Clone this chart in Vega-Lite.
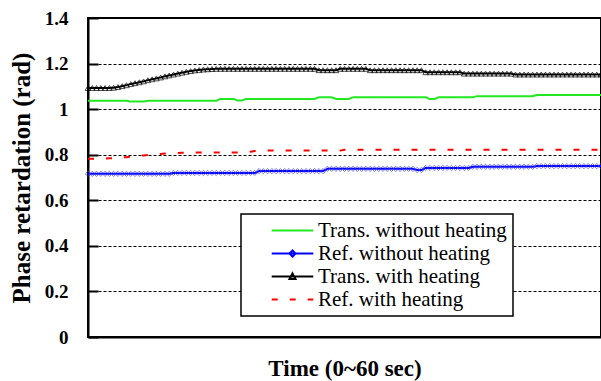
{
  "$schema": "https://vega.github.io/schema/vega-lite/v6.json",
  "width": 513,
  "height": 319,
  "autosize": "none",
  "padding": {"left": 88, "top": 18, "right": 0, "bottom": 44},
  "background": "white",
  "config": {
    "view": {"stroke": "black", "strokeWidth": 2},
    "font": "Liberation Serif, Times New Roman, serif"
  },
  "data": {"values": [
    {"t":0,"g":1.037,"b":0.716,"k":1.093,"r":0.782},
    {"t":0.5,"g":1.037,"b":0.716,"k":1.093,"r":0.782},
    {"t":1,"g":1.037,"b":0.716,"k":1.093,"r":0.782},
    {"t":1.5,"g":1.037,"b":0.716,"k":1.093,"r":0.782},
    {"t":2,"g":1.037,"b":0.716,"k":1.093,"r":0.783},
    {"t":2.5,"g":1.037,"b":0.716,"k":1.093,"r":0.784},
    {"t":3,"g":1.037,"b":0.716,"k":1.094,"r":0.785},
    {"t":3.5,"g":1.037,"b":0.716,"k":1.097,"r":0.786},
    {"t":4,"g":1.037,"b":0.716,"k":1.101,"r":0.788},
    {"t":4.5,"g":1.037,"b":0.716,"k":1.105,"r":0.789},
    {"t":5,"g":1.033,"b":0.716,"k":1.110,"r":0.791},
    {"t":5.5,"g":1.033,"b":0.716,"k":1.114,"r":0.793},
    {"t":6,"g":1.033,"b":0.716,"k":1.118,"r":0.795},
    {"t":6.5,"g":1.033,"b":0.716,"k":1.122,"r":0.797},
    {"t":7,"g":1.037,"b":0.716,"k":1.127,"r":0.799},
    {"t":7.5,"g":1.037,"b":0.716,"k":1.131,"r":0.800},
    {"t":8,"g":1.037,"b":0.716,"k":1.135,"r":0.802},
    {"t":8.5,"g":1.037,"b":0.716,"k":1.139,"r":0.803},
    {"t":9,"g":1.037,"b":0.716,"k":1.144,"r":0.805},
    {"t":9.5,"g":1.037,"b":0.716,"k":1.148,"r":0.806},
    {"t":10,"g":1.037,"b":0.720,"k":1.152,"r":0.807},
    {"t":10.5,"g":1.037,"b":0.720,"k":1.156,"r":0.808},
    {"t":11,"g":1.037,"b":0.720,"k":1.160,"r":0.809},
    {"t":11.5,"g":1.037,"b":0.720,"k":1.164,"r":0.809},
    {"t":12,"g":1.037,"b":0.720,"k":1.167,"r":0.810},
    {"t":12.5,"g":1.037,"b":0.720,"k":1.170,"r":0.810},
    {"t":13,"g":1.037,"b":0.720,"k":1.172,"r":0.810},
    {"t":13.5,"g":1.037,"b":0.720,"k":1.174,"r":0.810},
    {"t":14,"g":1.037,"b":0.720,"k":1.175,"r":0.810},
    {"t":14.5,"g":1.037,"b":0.720,"k":1.176,"r":0.810},
    {"t":15,"g":1.037,"b":0.720,"k":1.177,"r":0.810},
    {"t":15.5,"g":1.045,"b":0.720,"k":1.177,"r":0.810},
    {"t":16,"g":1.045,"b":0.720,"k":1.177,"r":0.810},
    {"t":16.5,"g":1.045,"b":0.720,"k":1.177,"r":0.810},
    {"t":17,"g":1.045,"b":0.720,"k":1.177,"r":0.810},
    {"t":17.5,"g":1.038,"b":0.720,"k":1.177,"r":0.810},
    {"t":18,"g":1.038,"b":0.720,"k":1.177,"r":0.810},
    {"t":18.5,"g":1.045,"b":0.720,"k":1.177,"r":0.810},
    {"t":19,"g":1.045,"b":0.720,"k":1.177,"r":0.813},
    {"t":19.5,"g":1.045,"b":0.720,"k":1.177,"r":0.816},
    {"t":20,"g":1.045,"b":0.728,"k":1.177,"r":0.818},
    {"t":20.5,"g":1.045,"b":0.728,"k":1.177,"r":0.818},
    {"t":21,"g":1.045,"b":0.728,"k":1.177,"r":0.818},
    {"t":21.5,"g":1.045,"b":0.728,"k":1.177,"r":0.818},
    {"t":22,"g":1.045,"b":0.728,"k":1.177,"r":0.818},
    {"t":22.5,"g":1.045,"b":0.728,"k":1.177,"r":0.818},
    {"t":23,"g":1.045,"b":0.728,"k":1.177,"r":0.818},
    {"t":23.5,"g":1.045,"b":0.728,"k":1.177,"r":0.818},
    {"t":24,"g":1.045,"b":0.728,"k":1.177,"r":0.818},
    {"t":24.5,"g":1.045,"b":0.728,"k":1.177,"r":0.818},
    {"t":25,"g":1.045,"b":0.728,"k":1.177,"r":0.818},
    {"t":25.5,"g":1.045,"b":0.728,"k":1.177,"r":0.818},
    {"t":26,"g":1.045,"b":0.728,"k":1.177,"r":0.818},
    {"t":26.5,"g":1.045,"b":0.728,"k":1.177,"r":0.818},
    {"t":27,"g":1.052,"b":0.728,"k":1.171,"r":0.818},
    {"t":27.5,"g":1.052,"b":0.728,"k":1.171,"r":0.818},
    {"t":28,"g":1.052,"b":0.738,"k":1.171,"r":0.818},
    {"t":28.5,"g":1.052,"b":0.738,"k":1.171,"r":0.818},
    {"t":29,"g":1.045,"b":0.738,"k":1.171,"r":0.818},
    {"t":29.5,"g":1.045,"b":0.738,"k":1.177,"r":0.818},
    {"t":30,"g":1.045,"b":0.738,"k":1.177,"r":0.822},
    {"t":30.5,"g":1.045,"b":0.738,"k":1.177,"r":0.822},
    {"t":31,"g":1.052,"b":0.738,"k":1.177,"r":0.822},
    {"t":31.5,"g":1.052,"b":0.738,"k":1.177,"r":0.822},
    {"t":32,"g":1.052,"b":0.738,"k":1.177,"r":0.822},
    {"t":32.5,"g":1.052,"b":0.738,"k":1.177,"r":0.822},
    {"t":33,"g":1.052,"b":0.738,"k":1.171,"r":0.822},
    {"t":33.5,"g":1.052,"b":0.738,"k":1.171,"r":0.822},
    {"t":34,"g":1.052,"b":0.738,"k":1.171,"r":0.822},
    {"t":34.5,"g":1.052,"b":0.738,"k":1.171,"r":0.822},
    {"t":35,"g":1.052,"b":0.738,"k":1.171,"r":0.822},
    {"t":35.5,"g":1.052,"b":0.738,"k":1.171,"r":0.822},
    {"t":36,"g":1.052,"b":0.738,"k":1.171,"r":0.822},
    {"t":36.5,"g":1.052,"b":0.738,"k":1.171,"r":0.822},
    {"t":37,"g":1.052,"b":0.738,"k":1.171,"r":0.822},
    {"t":37.5,"g":1.052,"b":0.738,"k":1.171,"r":0.822},
    {"t":38,"g":1.052,"b":0.738,"k":1.171,"r":0.822},
    {"t":38.5,"g":1.052,"b":0.733,"k":1.171,"r":0.822},
    {"t":39,"g":1.052,"b":0.733,"k":1.171,"r":0.822},
    {"t":39.5,"g":1.052,"b":0.742,"k":1.162,"r":0.822},
    {"t":40,"g":1.044,"b":0.742,"k":1.162,"r":0.822},
    {"t":40.5,"g":1.044,"b":0.742,"k":1.162,"r":0.822},
    {"t":41,"g":1.052,"b":0.742,"k":1.162,"r":0.822},
    {"t":41.5,"g":1.052,"b":0.742,"k":1.162,"r":0.822},
    {"t":42,"g":1.052,"b":0.742,"k":1.162,"r":0.822},
    {"t":42.5,"g":1.052,"b":0.742,"k":1.162,"r":0.822},
    {"t":43,"g":1.052,"b":0.742,"k":1.162,"r":0.822},
    {"t":43.5,"g":1.052,"b":0.742,"k":1.162,"r":0.822},
    {"t":44,"g":1.052,"b":0.742,"k":1.156,"r":0.822},
    {"t":44.5,"g":1.052,"b":0.742,"k":1.156,"r":0.822},
    {"t":45,"g":1.052,"b":0.747,"k":1.156,"r":0.822},
    {"t":45.5,"g":1.057,"b":0.747,"k":1.156,"r":0.822},
    {"t":46,"g":1.057,"b":0.747,"k":1.156,"r":0.822},
    {"t":46.5,"g":1.057,"b":0.747,"k":1.156,"r":0.822},
    {"t":47,"g":1.057,"b":0.747,"k":1.156,"r":0.822},
    {"t":47.5,"g":1.057,"b":0.747,"k":1.156,"r":0.822},
    {"t":48,"g":1.057,"b":0.747,"k":1.156,"r":0.822},
    {"t":48.5,"g":1.057,"b":0.747,"k":1.156,"r":0.822},
    {"t":49,"g":1.057,"b":0.747,"k":1.156,"r":0.822},
    {"t":49.5,"g":1.057,"b":0.747,"k":1.156,"r":0.822},
    {"t":50,"g":1.057,"b":0.747,"k":1.152,"r":0.822},
    {"t":50.5,"g":1.057,"b":0.747,"k":1.152,"r":0.822},
    {"t":51,"g":1.057,"b":0.747,"k":1.152,"r":0.822},
    {"t":51.5,"g":1.057,"b":0.747,"k":1.152,"r":0.822},
    {"t":52,"g":1.057,"b":0.747,"k":1.152,"r":0.822},
    {"t":52.5,"g":1.062,"b":0.750,"k":1.152,"r":0.822},
    {"t":53,"g":1.062,"b":0.750,"k":1.152,"r":0.822},
    {"t":53.5,"g":1.062,"b":0.750,"k":1.152,"r":0.822},
    {"t":54,"g":1.062,"b":0.750,"k":1.152,"r":0.822},
    {"t":54.5,"g":1.062,"b":0.750,"k":1.152,"r":0.822},
    {"t":55,"g":1.062,"b":0.750,"k":1.152,"r":0.822},
    {"t":55.5,"g":1.062,"b":0.750,"k":1.152,"r":0.822},
    {"t":56,"g":1.062,"b":0.750,"k":1.152,"r":0.822},
    {"t":56.5,"g":1.062,"b":0.750,"k":1.152,"r":0.822},
    {"t":57,"g":1.062,"b":0.750,"k":1.152,"r":0.822},
    {"t":57.5,"g":1.062,"b":0.750,"k":1.152,"r":0.822},
    {"t":58,"g":1.062,"b":0.750,"k":1.152,"r":0.822},
    {"t":58.5,"g":1.062,"b":0.750,"k":1.152,"r":0.822},
    {"t":59,"g":1.062,"b":0.750,"k":1.152,"r":0.822},
    {"t":59.5,"g":1.062,"b":0.750,"k":1.152,"r":0.822},
    {"t":60,"g":1.062,"b":0.750,"k":1.152,"r":0.822}
  ]},
  "transform": [{"fold": ["g", "b", "k", "r"], "as": ["s", "v"]}],
  "encoding": {
    "x": {
      "field": "t", "type": "quantitative",
      "scale": {"domain": [0, 60], "nice": false},
      "axis": {
        "title": "Time (0~60 sec)", "labels": false, "ticks": false, "grid": false,
        "domainColor": "black", "domainWidth": 2,
        "titleFont": "Liberation Serif, Times New Roman, serif", "titleFontSize": 23, "titleFontWeight": "bold",
        "titleColor": "black", "titlePadding": 20
      }
    },
    "y": {
      "field": "v", "type": "quantitative",
      "scale": {"domain": [0, 1.4], "nice": false},
      "axis": {
        "values": [0, 0.2, 0.4, 0.6, 0.8, 1, 1.2, 1.4], "format": "~g",
        "title": "Phase retardation (rad)",
        "titleFont": "Liberation Serif, Times New Roman, serif", "titleFontSize": 25, "titleFontWeight": "bold",
        "titleColor": "black", "titlePadding": 10,
        "labelFont": "Liberation Serif, Times New Roman, serif", "labelFontSize": 19, "labelFontWeight": "bold",
        "labelColor": "black", "labelPadding": 30,
        "tickSize": -10, "tickWidth": 2, "tickColor": "black",
        "domainColor": "black", "domainWidth": 2,
        "gridColor": "black", "gridDash": [3, 2], "gridWidth": 1, "gridOpacity": 1
      }
    }
  },
  "layer": [
    {
      "mark": {"type": "line", "interpolate": "linear"},
      "encoding": {
        "color": {
          "field": "s", "type": "nominal",
          "scale": {"domain": ["g", "b", "k", "r"], "range": ["#22e822", "#0000ff", "#000000", "#ff0000"]},
          "legend": {
            "title": null, "orient": "none", "legendX": 153, "legendY": 196,
            "strokeColor": "black", "fillColor": "white",
            "padding": 6, "labelFont": "Liberation Serif, Times New Roman, serif", "labelFontSize": 21, "labelColor": "black",
            "labelLimit": 400,
            "symbolType": "stroke", "symbolSize": 300, "symbolStrokeWidth": 2,
            "symbolOffset": 35, "labelOffset": 15, "rowPadding": 1,
            "labelExpr": "datum.label == 'g' ? 'Trans. without heating' : datum.label == 'b' ? 'Ref. without heating' : datum.label == 'k' ? 'Trans. with heating' : 'Ref. with heating'",
            "encode": {
              "legend": {"update": {"strokeWidth": {"value": 1.5}}},
              "symbols": {
                "update": {
                  "shape": {"signal": "datum.value == 'b' ? 'M-2.4,0H2.4M-0.35,0L0,-0.35L0.35,0L0,0.35Z' : datum.value == 'k' ? 'M-2.4,0H2.4M-0.35,0.3L0,-0.35L0.35,0.3Z' : 'M-2.4,0H2.4'"}
                }
              }
            }
          }
        },
        "strokeDash": {
          "field": "s", "type": "nominal",
          "scale": {"domain": ["g", "b", "k", "r"], "range": [[1, 0], [1, 0], [1, 0], [6, 12]]}
        },
        "strokeWidth": {
          "field": "s", "type": "nominal",
          "scale": {"domain": ["g", "b", "k", "r"], "range": [2, 2, 2, 3.5]},
          "legend": null
        }
      }
    },
    {
      "transform": [{"filter": "datum.s == 'b'"}],
      "mark": {"type": "point", "shape": "diamond", "filled": false, "size": 28, "color": "#3a3aff", "strokeWidth": 1}
    },
    {
      "transform": [{"filter": "datum.s == 'k'"}],
      "mark": {"type": "point", "shape": "triangle-up", "filled": false, "size": 32, "color": "black", "strokeWidth": 1}
    }
  ]
}
